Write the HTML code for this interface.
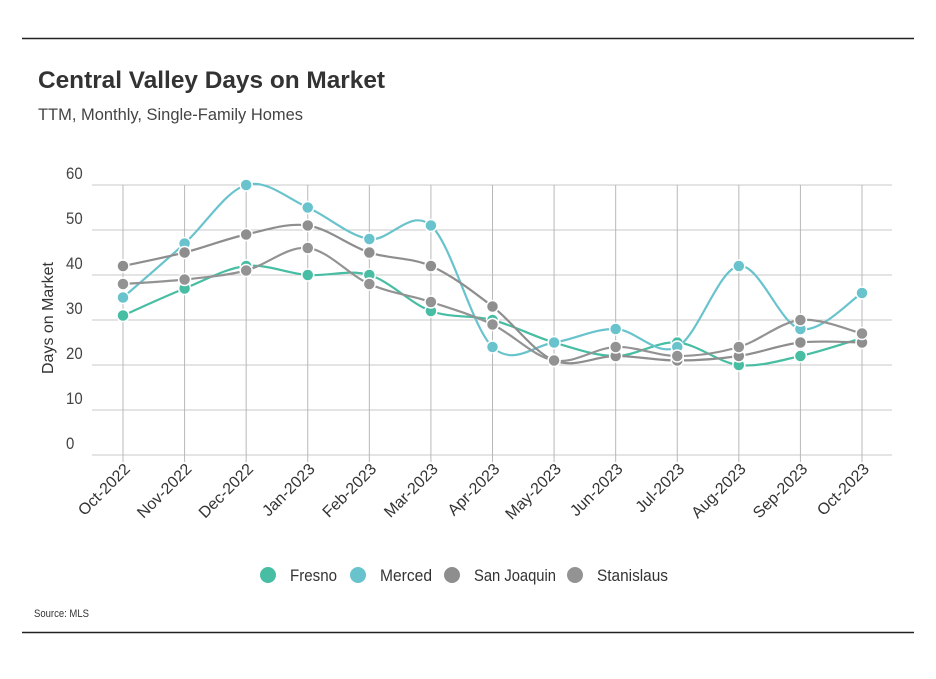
<!DOCTYPE html>
<html><head><meta charset="utf-8"><style>
body{margin:0;background:#fff;width:936px;height:674px;overflow:hidden;font-family:"Liberation Sans",sans-serif;}
</style></head><body>
<svg width="936" height="674" xmlns="http://www.w3.org/2000/svg">
<line x1="22" y1="38.5" x2="914" y2="38.5" stroke="#222" stroke-width="1.5"/>
<text x="38" y="88" font-size="24" font-weight="bold" fill="#333" textLength="347" lengthAdjust="spacingAndGlyphs">Central Valley Days on Market</text>
<text x="38" y="120" font-size="17" fill="#444" textLength="265" lengthAdjust="spacingAndGlyphs">TTM, Monthly, Single-Family Homes</text>
<g id="grid"></g>
<g id="series"></g>
<text transform="translate(53,318) rotate(-90)" text-anchor="middle" font-size="16" fill="#333" textLength="112" lengthAdjust="spacingAndGlyphs">Days on Market</text>
<g id="legend"></g>
<text x="34" y="617" font-size="11" fill="#333" textLength="55" lengthAdjust="spacingAndGlyphs">Source:  MLS</text>
<line x1="22" y1="632.5" x2="914" y2="632.5" stroke="#222" stroke-width="1.5"/>
</svg>
<script>
const categories=["Oct-2022","Nov-2022","Dec-2022","Jan-2023","Feb-2023","Mar-2023","Apr-2023","May-2023","Jun-2023","Jul-2023","Aug-2023","Sep-2023","Oct-2023"];
const yTicks=[0,10,20,30,40,50,60];
const seriesNames=["Fresno","Merced","San Joaquin","Stanislaus"];
const fresno=[31,37,42,40,40,32,30,25,22,25,20,22,26];
const merced=[35,47,60,55,48,51,24,25,28,24,42,28,36];
const sanJoaquin=[42,45,49,51,45,42,33,21,22,21,22,25,25];
const stanislaus=[38,39,41,46,38,34,29,21,24,22,24,30,27];
const colors=["#47bda3","#69c3cd","#8e8e8e","#939393"];
const NS="http://www.w3.org/2000/svg";
const x=i=>123+i*(862-123)/(categories.length-1);
const y=v=>455-v*4.5;
function mk(t,a,p){const e=document.createElementNS(NS,t);for(const k in a)e.setAttribute(k,a[k]);p.appendChild(e);return e;}
const grid=document.getElementById('grid');
yTicks.forEach(t=>{
 const l=mk('line',{x1:92,x2:892,y1:y(t),y2:y(t),stroke:'#c8c8c8','stroke-width':1},grid);
 
 
 const tx=mk('text',{transform:`translate(66,${y(t)-6}) scale(0.88,1)`,'font-size':17,fill:'#444'},grid);tx.textContent=t;
 
 
});
categories.forEach((c,i)=>{
 const l=mk('line',{x1:x(i),x2:x(i),y1:185,y2:462,stroke:'#b8b8b8','stroke-width':1},grid);
 
 
 const tx=mk('text',{transform:`translate(${x(i)+8},${470}) rotate(-45)`,'text-anchor':'end','font-size':16,fill:'#333'},grid);tx.textContent=c;
 
 
});
function path(vals){
 const p=vals.map((v,i)=>[x(i),y(v)]);let d=`M${p[0][0]},${p[0][1]}`;
 for(let i=0;i<p.length-1;i++){const p0=p[i-1]||p[i],p1=p[i],p2=p[i+1],p3=p[i+2]||p2;
  const c1=[p1[0]+(p2[0]-p0[0])/6,p1[1]+(p2[1]-p0[1])/6],c2=[p2[0]-(p3[0]-p1[0])/6,p2[1]-(p3[1]-p1[1])/6];
  d+=` C${c1[0]},${c1[1]} ${c2[0]},${c2[1]} ${p2[0]},${p2[1]}`;}
 return d;}
const sg=document.getElementById('series');
[fresno,merced,sanJoaquin,stanislaus].forEach((vals,s)=>{
 const g=mk('g',{},sg);
 
 
 mk('path',{d:path(vals),fill:'none',stroke:colors[s],'stroke-width':2.2},g);
 vals.forEach((v,i)=>{const c=mk('circle',{cx:x(i),cy:y(v),r:6,fill:colors[s],stroke:'#fff','stroke-width':1.5},g);
  
  });
});
const lg=document.getElementById('legend');
const lx=[268,358,452,575];
const lw=[47,52,82,71];
seriesNames.forEach((n,i)=>{
 const g=mk('g',{},lg);
 
 
 mk('circle',{cx:lx[i],cy:575,r:8,fill:colors[i]},g);
 const t=mk('text',{x:lx[i]+22,y:581,'font-size':17,fill:'#333',textLength:lw[i],lengthAdjust:'spacingAndGlyphs'},g);t.textContent=n;
});
</script>
</body></html>
